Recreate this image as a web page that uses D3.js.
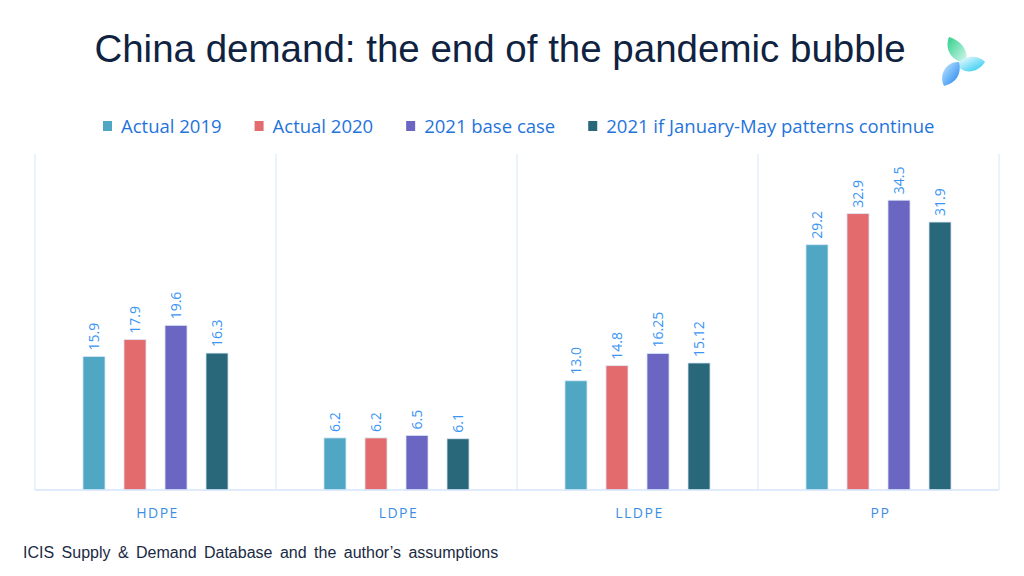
<!DOCTYPE html>
<html>
<head>
<meta charset="utf-8">
<script src="https://cdnjs.cloudflare.com/ajax/libs/d3/7.8.5/d3.min.js"></script>
<style>
  body { margin:0; background:#fff; }
  svg { display:block; }
</style>
</head>
<body>
<div id="stage"></div>
<script>
// data
var categories = ["HDPE", "LDPE", "LLDPE", "PP"];
var seriesNames = ["Actual 2019", "Actual 2020", "2021 base case", "2021 if January-May patterns continue"];
var actual2019 = [15.9, 6.2, 13.0, 29.2];
var actual2020 = [17.9, 6.2, 14.8, 32.9];
var base2021 = [19.6, 6.5, 16.25, 34.5];
var cont2021 = [16.3, 6.1, 15.12, 31.9];
var labels2019 = ["15.9", "6.2", "13.0", "29.2"];
var labels2020 = ["17.9", "6.2", "14.8", "32.9"];
var labelsBase = ["19.6", "6.5", "16.25", "34.5"];
var labelsCont = ["16.3", "6.1", "15.12", "31.9"];
var colors = ["#4fa7c4", "#e46b6d", "#6b66c1", "#29677b"];

var W = 1024, H = 576;
var svg = d3.select("#stage").append("svg").attr("width", W).attr("height", H);

var seriesVals = [actual2019, actual2020, base2021, cont2021];
var seriesLbls = [labels2019, labels2020, labelsBase, labelsCont];

// title
svg.append("text").attr("x", 500).attr("y", 62).attr("text-anchor", "middle")
   .attr("font-family", "Liberation Sans, Arial, sans-serif").attr("font-size", 38.5)
   .attr("fill", "#0f2341").text("China demand: the end of the pandemic bubble");

// logo (three petals)
var defs = svg.append("defs");
function grad(id, c1, c2) {
  var g = defs.append("linearGradient").attr("id", id).attr("x1", "0").attr("y1", "0").attr("x2", "1").attr("y2", "1");
  g.append("stop").attr("offset", "0").attr("stop-color", c1);
  g.append("stop").attr("offset", "1").attr("stop-color", c2);
}
grad("gA", "#2fd08a", "#d8f8f0");
grad("gB", "#ffffff", "#19c6f0");
grad("gC", "#c8ecff", "#1a7ff0");
var logo = svg.append("g").attr("transform", "translate(962,60)");
logo.append("path").attr("d", "M-13,-23 C0,-19 8,-8 3,3 C-10,1 -18,-10 -13,-23 Z").attr("fill", "url(#gA)");
logo.append("path").attr("d", "M23,2 C15,14 1,14 -5,5 C3,-6 17,-5 23,2 Z").attr("fill", "url(#gB)");
logo.append("path").attr("d", "M-18,26 C-24,14 -15,1 -3,2 C0,14 -6,23 -18,26 Z").attr("fill", "url(#gC)");

// legend
var legend = svg.append("g").attr("transform", "translate(103,126)");
var lx = 0;
seriesNames.forEach(function(name, i) {
  var item = legend.append("g").attr("transform", "translate(" + lx + ",0)");
  item.append("rect").attr("x", 0).attr("y", -5).attr("width", 9).attr("height", 10).attr("fill", colors[i]);
  var t = item.append("text").attr("x", 18).attr("y", 6.5)
    .attr("font-family", "Open Sans, sans-serif").attr("font-size", 18.5)
    .attr("fill", "#1f74dc").text(name);
  lx += 18 + t.node().getComputedTextLength() + 33;
});

// plot area
var plotL = 35, plotR = 999, plotT = 154, plotB = 490;
var x0 = d3.scaleBand().domain(categories).range([plotL, plotR]).padding(0);
var x1 = d3.scaleBand().domain(d3.range(seriesNames.length)).range([0, x0.bandwidth()])
  .paddingInner(0.463).paddingOuter(1.17);
var y = d3.scaleLinear().domain([0, 40]).range([plotB, plotT]);

// separators
var seps = categories.map(function(c) { return x0(c); }).concat([plotR]);
svg.selectAll("line.sep").data(seps).enter().append("line").attr("class", "sep")
  .attr("x1", function(d) { return d; }).attr("x2", function(d) { return d; })
  .attr("y1", plotT).attr("y2", plotB)
  .attr("stroke", "#d6e6fb").attr("stroke-width", 1);

// bars
var groups = svg.selectAll("g.cat").data(categories).enter().append("g").attr("class", "cat")
  .attr("transform", function(c) { return "translate(" + x0(c) + ",0)"; });

groups.each(function(c, ci) {
  var g = d3.select(this);
  var rows = seriesVals.map(function(vals, si) { return { si: si, v: vals[ci], lbl: seriesLbls[si][ci] }; });
  g.selectAll("rect").data(rows).enter().append("rect")
    .attr("x", function(d) { return x1(d.si); })
    .attr("width", x1.bandwidth())
    .attr("y", function(d) { return y(d.v); })
    .attr("height", function(d) { return plotB - y(d.v); })
    .attr("fill", function(d) { return colors[d.si]; })
    .attr("stroke", "#d8e8f4").attr("stroke-width", 0.8);
  g.selectAll("text.val").data(rows).enter().append("text").attr("class", "val")
    .attr("transform", function(d) {
      return "translate(" + (x1(d.si) + x1.bandwidth() / 2 + 5) + "," + (y(d.v) - 6) + ") rotate(-90)";
    })
    .attr("font-family", "Open Sans, sans-serif").attr("font-size", 14)
    .attr("fill", "#3a95f5").text(function(d) { return d.lbl; });
});

// baseline
svg.append("line").attr("x1", plotL).attr("x2", plotR).attr("y1", plotB).attr("y2", plotB)
  .attr("stroke", "#d6e6fb").attr("stroke-width", 1.5);

// category labels
svg.selectAll("text.cat").data(categories).enter().append("text").attr("class", "cat")
  .attr("x", function(c) { return x0(c) + x0.bandwidth() / 2 + 2; })
  .attr("y", 518).attr("text-anchor", "middle")
  .attr("font-family", "Open Sans, sans-serif").attr("font-size", 14)
  .attr("letter-spacing", 1.5).attr("fill", "#3b8ee6")
  .text(function(c) { return c; });

// source
svg.append("text").attr("x", 23).attr("y", 558)
  .attr("font-family", "Liberation Sans, Arial, sans-serif").attr("font-size", 16)
  .attr("word-spacing", 3).attr("fill", "#1a2a44")
  .text("ICIS Supply & Demand Database and the author\u2019s assumptions");
</script>
</body>
</html>
